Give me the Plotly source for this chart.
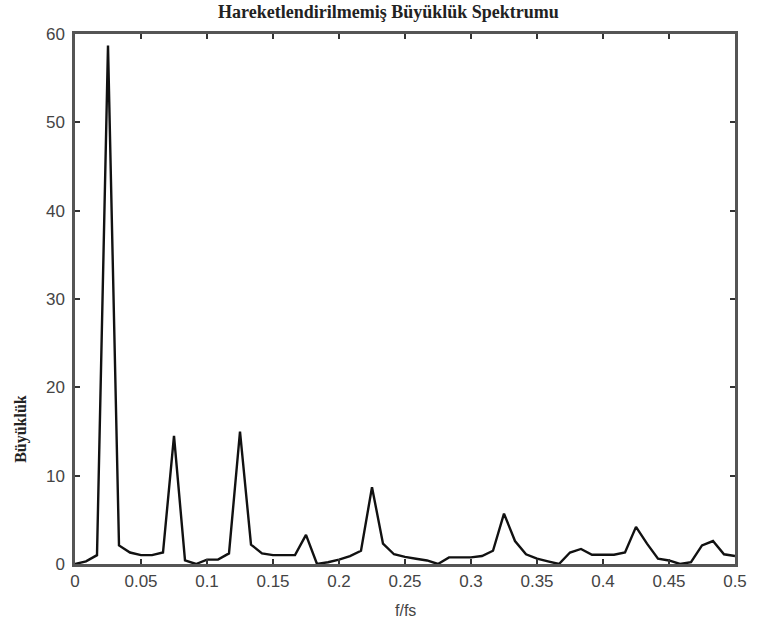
import numpy as np
import plotly.graph_objects as go

# Normalised frequency bins (f/fs), 0 .. 0.5 in steps of 1/120
freq = np.linspace(0.0, 0.5, 61)

# Magnitude of each bin
magnitude = [
    0.0, 0.3, 1.0, 58.7, 2.1, 1.3, 1.0, 1.0, 1.3, 14.5,
    0.4, 0.0, 0.5, 0.5, 1.2, 15.0, 2.2, 1.2, 1.0, 1.0,
    1.0, 3.3, 0.0, 0.2, 0.5, 0.9, 1.5, 8.7, 2.3, 1.1,
    0.8, 0.6, 0.4, 0.0, 0.75, 0.75, 0.75, 0.9, 1.5, 5.7,
    2.6, 1.1, 0.6, 0.3, 0.0, 1.3, 1.7, 1.05, 1.05, 1.05,
    1.3, 4.2, 2.3, 0.6, 0.4, 0.0, 0.2, 2.1, 2.6, 1.1,
    0.9,
]

x_ticks = [0, 0.05, 0.1, 0.15, 0.2, 0.25, 0.3, 0.35, 0.4, 0.45, 0.5]
x_tick_text = ["0", "0.05", "0.1", "0.15", "0.2", "0.25", "0.3", "0.35", "0.4", "0.45", "0.5"]
y_ticks = [0, 10, 20, 30, 40, 50, 60]

title_text = "Hareketlendirilmemiş Büyüklük Spektrumu"
x_label = "f/fs"
y_label = "Büyüklük"

fig = go.Figure()
fig.add_trace(go.Scatter(
    x=freq, y=magnitude, mode="lines",
    line=dict(color="#111111", width=2.4),
    showlegend=False, hoverinfo="skip",
))

axis_common = dict(
    showgrid=False, zeroline=False,
    showline=True, linecolor="#555555", linewidth=2.5, mirror="ticks",
    ticks="inside", ticklen=5, tickwidth=1.5, tickcolor="#333333",
    tickfont=dict(family="Liberation Sans, Arial, sans-serif", size=17, color="#444444"),
)

fig.update_xaxes(range=[0, 0.5], tickvals=x_ticks, ticktext=x_tick_text, **axis_common)
fig.update_yaxes(range=[0, 60], tickvals=y_ticks, ticklabelstandoff=4, **axis_common)

fig.update_layout(
    width=757, height=621,
    margin=dict(l=75, r=10, t=34, b=57),
    paper_bgcolor="white", plot_bgcolor="white",
    annotations=[
        dict(text=f"<b>{title_text}</b>", xref="paper", yref="paper",
             x=0.475, y=1.0, yshift=10, xanchor="center", yanchor="bottom",
             showarrow=False,
             font=dict(family="Liberation Serif, Times New Roman, serif", size=18, color="#222222")),
        dict(text=f"<b>{y_label}</b>", xref="paper", yref="paper",
             x=0, xshift=-54, y=0.255, xanchor="center", yanchor="middle",
             textangle=-90, showarrow=False,
             font=dict(family="Liberation Serif, Times New Roman, serif", size=16, color="#222222")),
        dict(text=x_label, xref="paper", yref="paper",
             x=0.5, y=0, yshift=-36, xanchor="center", yanchor="top",
             showarrow=False,
             font=dict(family="Liberation Sans, Arial, sans-serif", size=16, color="#444444")),
    ],
)

fig.write_html("out.html")
